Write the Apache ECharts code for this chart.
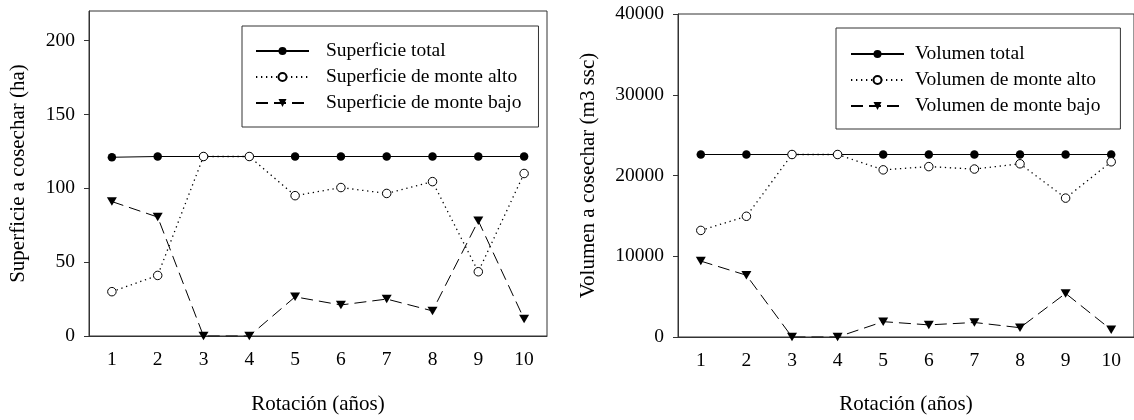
<!DOCTYPE html>
<html>
<head>
<meta charset="utf-8">
<script src="https://cdn.jsdelivr.net/npm/echarts@6/dist/echarts.min.js"></script>
<style>
  html, body { margin: 0; padding: 0; background: #fff; }
  #chart { width: 1134px; height: 420px; }
</style>
</head>
<body>
<div id="chart"></div>
<script>
// Rotation length (years) on the horizontal axis
const rotations = ['1', '2', '3', '4', '5', '6', '7', '8', '9', '10'];

// Area to harvest (ha)
const supTotal = [121, 121.5, 121.5, 121.5, 121.5, 121.5, 121.5, 121.5, 121.5, 121.5];
const supAlto  = [30, 41, 121.5, 121.5, 95, 100.5, 96.5, 104.5, 43.5, 110];
const supBajo  = [91, 80.5, 0, 0, 26.5, 21, 25, 17, 78, 11.5];
const supTicks = [0, 50, 100, 150, 200];

// Volume to harvest (m3 ssc)
const volTotal = [22600, 22600, 22600, 22600, 22600, 22600, 22600, 22600, 22600, 22600];
const volAlto  = [13200, 14950, 22600, 22600, 20700, 21100, 20800, 21450, 17200, 21700];
const volBajo  = [9400, 7650, 0, 0, 1900, 1500, 1800, 1150, 5400, 900];

const FONT = "'Liberation Serif', 'Times New Roman', serif";
const AXIS_COLOR = '#333';

function xAxisFor(gridIndex, nameGap) {
  return {
    type: 'category',
    gridIndex: gridIndex,
    data: rotations,
    boundaryGap: true,
    name: 'Rotación (años)',
    nameLocation: 'middle',
    nameGap: nameGap,
    nameTextStyle: { fontFamily: FONT, fontSize: 21, color: '#000' },
    axisLine: { lineStyle: { color: AXIS_COLOR, width: 1 } },
    axisTick: { alignWithLabel: true, length: 5, lineStyle: { color: AXIS_COLOR } },
    axisLabel: { fontFamily: FONT, fontSize: 19.5, color: '#000', margin: 14 },
    splitLine: { show: false }
  };
}

function seriesFor(names, values, xi, yi) {
  return [
    {
      name: names[0], type: 'line', xAxisIndex: xi, yAxisIndex: yi,
      data: values[0],
      symbol: 'circle', symbolSize: 8.5,
      itemStyle: { color: '#000' },
      lineStyle: { color: '#000', width: 1, type: 'solid' }
    },
    {
      name: names[1], type: 'line', xAxisIndex: xi, yAxisIndex: yi,
      data: values[1],
      symbol: 'circle', symbolSize: 8.5,
      itemStyle: { color: '#fff', borderColor: '#000', borderWidth: 1 },
      lineStyle: { color: '#000', width: 1.3, type: [1.3, 3.7] }
    },
    {
      name: names[2], type: 'line', xAxisIndex: xi, yAxisIndex: yi,
      data: values[2],
      symbol: 'triangle', symbolRotate: 180, symbolSize: [10, 8.5],
      itemStyle: { color: '#000' },
      lineStyle: { color: '#000', width: 1, type: [12, 6] }
    }
  ];
}

const supNames = ['Superficie total', 'Superficie de monte alto', 'Superficie de monte bajo'];
const volNames = ['Volumen total', 'Volumen de monte alto', 'Volumen de monte bajo'];

function legendFor(names, left, top, padding, textGap) {
  return {
    data: names,
    orient: 'vertical',
    left: left,
    top: top,
    padding: padding,
    itemGap: 6,
    itemWidth: 53,
    itemHeight: 10,
    backgroundColor: '#fff',
    borderColor: AXIS_COLOR,
    borderWidth: 1,
    borderRadius: 0,
    selectedMode: false,
    textStyle: {
      fontFamily: FONT, fontSize: 19.5, color: '#000',
      lineHeight: 19, padding: [0, 0, 0, textGap]
    }
  };
}

const chart = echarts.init(document.getElementById('chart'), null, { renderer: 'canvas' });

chart.setOption({
  animation: false,
  backgroundColor: '#fff',
  grid: [
    { left: 89, top: 11, width: 458, height: 328, show: true,
      borderColor: AXIS_COLOR, borderWidth: 1, backgroundColor: 'transparent' },
    { left: 678, top: 14, right: -1, height: 328.3, show: true,
      borderColor: AXIS_COLOR, borderWidth: 1, backgroundColor: 'transparent' }
  ],
  legend: [
    legendFor(supNames, 242, 26, [15, 17, 14, 13], 12),
    legendFor(volNames, 836, 28, [16, 20, 13, 14], 6)
  ],
  xAxis: [xAxisFor(0, 58), xAxisFor(1, 57)],
  yAxis: [
    {
      type: 'value', gridIndex: 0, min: 0, max: 220,
      name: 'Superficie a cosechar (ha)',
      nameLocation: 'middle', nameGap: 60,
      nameTextStyle: { fontFamily: FONT, fontSize: 21, color: '#000' },
      axisLine: { show: true, lineStyle: { color: AXIS_COLOR, width: 1 } },
      axisTick: { show: true, length: 5, customValues: supTicks, lineStyle: { color: AXIS_COLOR } },
      axisLabel: { fontFamily: FONT, fontSize: 19.5, color: '#000', margin: 14, customValues: supTicks },
      splitLine: { show: false }
    },
    {
      type: 'value', gridIndex: 1, min: 0, max: 40000, interval: 10000,
      name: 'Volumen a cosechar (m3 ssc)',
      nameLocation: 'middle', nameGap: 79,
      nameTextStyle: { fontFamily: FONT, fontSize: 21, color: '#000' },
      axisLine: { show: true, lineStyle: { color: AXIS_COLOR, width: 1 } },
      axisTick: { show: true, length: 5, lineStyle: { color: AXIS_COLOR } },
      axisLabel: {
        fontFamily: FONT, fontSize: 19.5, color: '#000', margin: 14,
        formatter: function (v) { return String(v); }
      },
      splitLine: { show: false }
    }
  ],
  series: [].concat(
    seriesFor(supNames, [supTotal, supAlto, supBajo], 0, 0),
    seriesFor(volNames, [volTotal, volAlto, volBajo], 1, 1)
  )
});
</script>
</body>
</html>
